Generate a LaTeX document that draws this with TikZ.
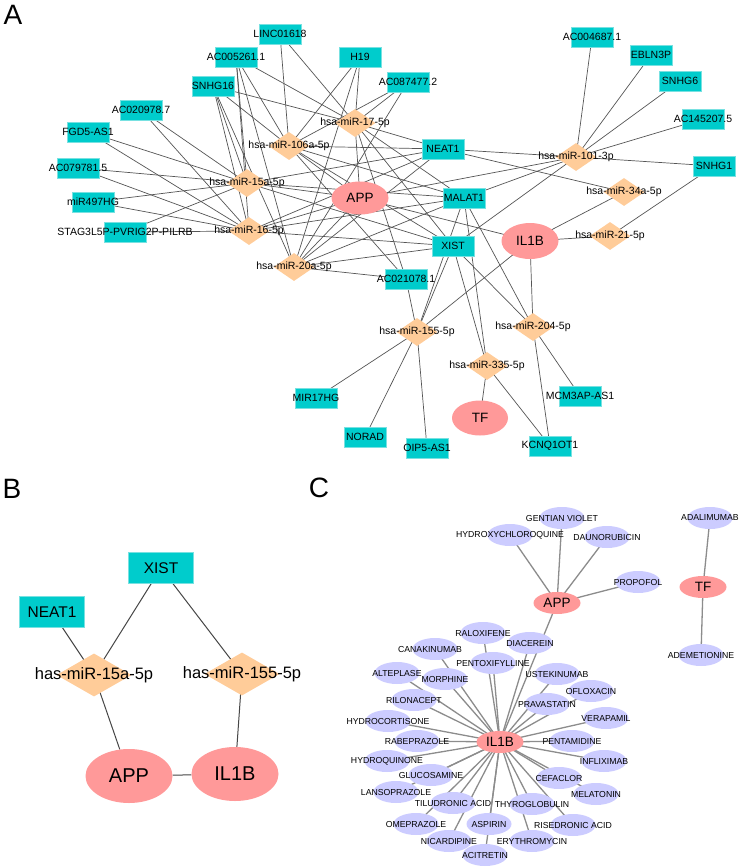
\documentclass[tikz,border=0pt]{standalone}
\usepackage{fontspec}
\setmainfont{Liberation Sans}
\usetikzlibrary{shapes.geometric}
\pgfdeclarelayer{back}
\pgfdeclarelayer{bg}
\pgfsetlayers{back,bg,main}
\definecolor{lnccol}{RGB}{0,204,204}
\definecolor{lncedge}{RGB}{120,225,225}
\definecolor{mircol}{RGB}{255,204,153}
\definecolor{genecol}{RGB}{255,153,153}
\definecolor{drugcol}{RGB}{204,204,255}
\definecolor{edgeAcol}{RGB}{85,85,85}
\definecolor{edgeBcol}{RGB}{70,70,70}
\definecolor{edgeCcol}{RGB}{140,140,140}
\tikzset{
  lncA/.style={rectangle, fill=lnccol, draw=lncedge, line width=0.4pt, minimum width=42pt, minimum height=20pt, inner sep=0pt},
  mirA/.style={diamond, fill=mircol, minimum width=41pt, minimum height=28pt, inner sep=0pt},
  geneA/.style={ellipse, fill=genecol, inner sep=0pt, font=\fontsize{13.5}{15}\selectfont},
  txtA/.style={inner sep=0pt, font=\fontsize{10.5}{12}\selectfont},
  lncB/.style={rectangle, fill=lnccol, draw=lncedge, line width=0.4pt, minimum width=65pt, minimum height=31pt, inner sep=0pt, font=\fontsize{15.5}{17}\selectfont},
  mirB/.style={diamond, fill=mircol, minimum width=75pt, minimum height=43pt, inner sep=0pt},
  txtB/.style={inner sep=0pt, font=\fontsize{16.5}{18}\selectfont},
  geneB/.style={ellipse, fill=genecol, minimum width=87pt, minimum height=54pt, inner sep=0pt, font=\fontsize{20}{22}\selectfont},
  geneC/.style={ellipse, fill=genecol, minimum width=47pt, minimum height=22pt, inner sep=0pt, font=\fontsize{13.5}{15}\selectfont},
  drugC/.style={ellipse, fill=drugcol, minimum width=45pt, minimum height=22pt, inner sep=0pt},
  txtC/.style={inner sep=0pt, font=\fontsize{8.7}{10}\selectfont},
  edgeA/.style={draw=edgeAcol, line width=0.7pt},
  edgeB/.style={draw=edgeBcol, line width=1pt},
  edgeC/.style={draw=edgeCcol, line width=1.3pt},
  panel/.style={inner sep=0pt, font=\fontsize{28}{30}\selectfont}
}
\begin{document}
\begin{tikzpicture}[x=1pt,y=-1pt]
\begin{pgfonlayer}{back}
\fill[white] (0,0) rectangle (740,868);
\end{pgfonlayer}
\useasboundingbox (0,0) rectangle (740,868);
% ---------------- panel labels
\node[panel] (labA) at (13,15) {A};
\node[panel] (labB) at (12,489) {B};
\node[panel] (labC) at (319,488) {C};
% ================= PANEL A shapes
\node[lncA] (linc) at (280,34) {};
\node[lncA] (ac005) at (236,57) {};
\node[lncA] (h19) at (360,57) {};
\node[lncA] (snhg16) at (213,86) {};
\node[lncA] (ac020) at (141,110) {};
\node[lncA] (fgd5) at (88,132) {};
\node[lncA] (ac079) at (78,168) {};
\node[lncA] (mir497) at (93,202) {};
\node[lncA] (stag) at (125,232) {};
\node[lncA] (ac087) at (408,82) {};
\node[lncA] (neat1) at (443,149) {};
\node[lncA] (malat1) at (464,198) {};
\node[lncA] (xist) at (453,246) {};
\node[lncA] (ac021) at (406,279) {};
\node[lncA] (ac004) at (592,37) {};
\node[lncA] (ebln) at (651,55) {};
\node[lncA] (snhg6) at (680,81) {};
\node[lncA] (ac145) at (703,119) {};
\node[lncA] (snhg1) at (714,166) {};
\node[lncA] (mir17hg) at (316,398) {};
\node[lncA] (norad) at (365,437) {};
\node[lncA] (oip5) at (427,448) {};
\node[lncA] (mcm3) at (580,396) {};
\node[lncA] (kcnq) at (550,446) {};
\node[mirA] (m106) at (289,146) {};
\node[mirA] (m17) at (355,123) {};
\node[mirA] (m15) at (247,183) {};
\node[mirA] (m16) at (249,231) {};
\node[mirA] (m20) at (294,267) {};
\node[mirA] (m101) at (576,157) {};
\node[mirA] (m34) at (624,192) {};
\node[mirA] (m21) at (610,236) {};
\node[mirA] (m155) at (417,332) {};
\node[mirA] (m204) at (533,327) {};
\node[mirA] (m335) at (487,366) {};
\node[geneA, minimum width=57pt, minimum height=33pt] (appA) at (360,198) {APP};
\node[geneA, minimum width=57pt, minimum height=36pt] (il1bA) at (530,241) {IL1B};
\node[geneA, minimum width=56pt, minimum height=35pt] (tfA) at (480,418) {TF};
% panel A texts
\node[txtA] (t-linc) at (linc) {LINC01618};
\node[txtA] (t-ac005) at (ac005) {AC005261.1};
\node[txtA] (t-h19) at (h19) {H19};
\node[txtA] (t-snhg16) at (snhg16) {SNHG16};
\node[txtA] (t-ac020) at (ac020) {AC020978.7};
\node[txtA] (t-fgd5) at (fgd5) {FGD5-AS1};
\node[txtA] (t-ac079) at (ac079) {AC079781.5};
\node[txtA] (t-mir497) at (mir497) {miR497HG};
\node[txtA] (t-stag) at (stag) {STAG3L5P-PVRIG2P-PILRB};
\node[txtA] (t-ac087) at (ac087) {AC087477.2};
\node[txtA] (t-neat1) at (neat1) {NEAT1};
\node[txtA] (t-malat1) at (malat1) {MALAT1};
\node[txtA] (t-xist) at (xist) {XIST};
\node[txtA] (t-ac021) at (ac021) {AC021078.1};
\node[txtA] (t-ac004) at (ac004) {AC004687.1};
\node[txtA] (t-ebln) at (ebln) {EBLN3P};
\node[txtA] (t-snhg6) at (snhg6) {SNHG6};
\node[txtA] (t-ac145) at (ac145) {AC145207.5};
\node[txtA] (t-snhg1) at (snhg1) {SNHG1};
\node[txtA] (t-mir17hg) at (mir17hg) {MIR17HG};
\node[txtA] (t-norad) at (norad) {NORAD};
\node[txtA] (t-oip5) at (oip5) {OIP5-AS1};
\node[txtA] (t-mcm3) at (mcm3) {MCM3AP-AS1};
\node[txtA] (t-kcnq) at (kcnq) {KCNQ1OT1};
\node[txtA] (t-m106) at (m106) {hsa-miR-106a-5p};
\node[txtA] (t-m17) at (m17) {hsa-miR-17-5p};
\node[txtA] (t-m15) at (m15) {hsa-miR-15a-5p};
\node[txtA] (t-m16) at (m16) {hsa-miR-16-5p};
\node[txtA] (t-m20) at (m20) {hsa-miR-20a-5p};
\node[txtA] (t-m101) at (m101) {hsa-miR-101-3p};
\node[txtA] (t-m34) at (m34) {hsa-miR-34a-5p};
\node[txtA] (t-m21) at (m21) {hsa-miR-21-5p};
\node[txtA] (t-m155) at (m155) {hsa-miR-155-5p};
\node[txtA] (t-m204) at (m204) {hsa-miR-204-5p};
\node[txtA] (t-m335) at (m335) {hsa-miR-335-5p};
% panel A edges
\begin{pgfonlayer}{bg}
\foreach \l in {linc,ac005,h19,snhg16,ac087,neat1,malat1,xist,appA,ac021}
  {\draw[edgeA] (m106.center) -- (\l.center);}
\foreach \l in {linc,ac005,h19,snhg16,ac087,neat1,malat1,xist,appA,ac021}
  {\draw[edgeA] (m17.center) -- (\l.center);}
\foreach \l in {ac005,snhg16,ac020,fgd5,ac079,mir497,stag,neat1,malat1,xist,appA}
  {\draw[edgeA] (m15.center) -- (\l.center);}
\foreach \l in {ac005,snhg16,ac020,fgd5,ac079,mir497,stag,neat1,malat1,xist,appA}
  {\draw[edgeA] (m16.center) -- (\l.center);}
\foreach \l in {ac005,snhg16,h19,ac087,neat1,malat1,xist,appA,ac021}
  {\draw[edgeA] (m20.center) -- (\l.center);}
\foreach \l in {neat1,malat1,xist,appA,ac004,ebln,snhg6,ac145,snhg1}
  {\draw[edgeA] (m101.center) -- (\l.center);}
\foreach \l in {neat1,il1bA}
  {\draw[edgeA] (m34.center) -- (\l.center);}
\foreach \l in {il1bA,snhg1}
  {\draw[edgeA] (m21.center) -- (\l.center);}
\foreach \l in {xist,malat1,ac021,il1bA,mir17hg,norad,oip5}
  {\draw[edgeA] (m155.center) -- (\l.center);}
\foreach \l in {xist,malat1,il1bA,mcm3,kcnq}
  {\draw[edgeA] (m204.center) -- (\l.center);}
\foreach \l in {xist,malat1,tfA,kcnq}
  {\draw[edgeA] (m335.center) -- (\l.center);}
\draw[edgeA] (appA.center) -- (il1bA.center);
\end{pgfonlayer}
% ================= PANEL B
\node[lncB] (xistB) at (161,568) {XIST};
\node[lncB] (neatB) at (52,612) {NEAT1};
\node[mirB] (m15B) at (94,675) {};
\node[mirB] (m155B) at (242,674) {};
\node[geneB] (appB) at (129,776) {APP};
\node[geneB] (il1bB) at (235,774) {IL1B};
\node[txtB] (t-m15B) at (m15B) {has-miR-15a-5p};
\node[txtB] (t-m155B) at (m155B) {has-miR-155-5p};
\begin{pgfonlayer}{bg}
\draw[edgeB] (neatB) -- (m15B.center);
\draw[edgeB] (xistB) -- (m15B.center);
\draw[edgeB] (xistB) -- (m155B.center);
\draw[edgeB] (m15B.center) -- (appB);
\draw[edgeB] (m155B.center) -- (il1bB);
\draw[edgeB] (appB) -- (il1bB);
\end{pgfonlayer}
% ================= PANEL C shapes
\node[geneC] (appC) at (557,603) {};
\node[geneC] (il1bC) at (500,742) {};
\node[geneC] (tfC) at (703,587) {};
\node[drugC] (gentian) at (562,518) {};
\node[drugC] (hcq) at (510,535) {};
\node[drugC] (dauno) at (607,537) {};
\node[drugC] (propofol) at (638,582) {};
\node[drugC] (adalim) at (710,518) {};
\node[drugC] (ademet) at (701,655) {};
\node[drugC] (ralox) at (483,633) {};
\node[drugC] (canak) at (435,649) {};
\node[drugC] (diacer) at (530,643) {};
\node[drugC] (altep) at (397,673) {};
\node[drugC] (morph) at (445,679) {};
\node[drugC] (pentox) at (493,663) {};
\node[drugC] (ustek) at (557,674) {};
\node[drugC] (oflox) at (591,691) {};
\node[drugC] (prava) at (547,704) {};
\node[drugC] (rilon) at (414,700) {};
\node[drugC] (verap) at (606,718) {};
\node[drugC] (hydroc) at (388,721) {};
\node[drugC] (rabep) at (417,741) {};
\node[drugC] (pentam) at (572,741) {};
\node[drugC] (inflix) at (604,761) {};
\node[drugC] (hydroq) at (387,761) {};
\node[drugC] (glucos) at (431,775) {};
\node[drugC] (cefac) at (559,778) {};
\node[drugC] (melat) at (596,794) {};
\node[drugC] (lanso) at (396,792) {};
\node[drugC] (tilud) at (453,803) {};
\node[drugC] (thyro) at (532,804) {};
\node[drugC] (omep) at (416,824) {};
\node[drugC] (aspir) at (489,824) {};
\node[drugC] (rised) at (573,825) {};
\node[drugC] (nicard) at (449,841) {};
\node[drugC] (eryth) at (532,841) {};
\node[drugC] (acitr) at (485,855) {};
% panel C texts
\node[inner sep=0pt, font=\fontsize{13.5}{15}\selectfont] (t-appC) at (appC) {APP};
\node[inner sep=0pt, font=\fontsize{13.5}{15}\selectfont] (t-il1bC) at (il1bC) {IL1B};
\node[inner sep=0pt, font=\fontsize{13.5}{15}\selectfont] (t-tfC) at (tfC) {TF};
\node[txtC] (t-gentian) at (gentian) {GENTIAN VIOLET};
\node[txtC] (t-hcq) at (hcq) {HYDROXYCHLOROQUINE};
\node[txtC] (t-dauno) at (dauno) {DAUNORUBICIN};
\node[txtC] (t-propofol) at (propofol) {PROPOFOL};
\node[txtC] (t-adalim) at (adalim) {ADALIMUMAB};
\node[txtC] (t-ademet) at (ademet) {ADEMETIONINE};
\node[txtC] (t-ralox) at (ralox) {RALOXIFENE};
\node[txtC] (t-canak) at (430,649) {CANAKINUMAB};
\node[txtC] (t-diacer) at (diacer) {DIACEREIN};
\node[txtC] (t-altep) at (altep) {ALTEPLASE};
\node[txtC] (t-morph) at (morph) {MORPHINE};
\node[txtC] (t-pentox) at (pentox) {PENTOXIFYLLINE};
\node[txtC] (t-ustek) at (ustek) {USTEKINUMAB};
\node[txtC] (t-oflox) at (oflox) {OFLOXACIN};
\node[txtC] (t-prava) at (prava) {PRAVASTATIN};
\node[txtC] (t-rilon) at (rilon) {RILONACEPT};
\node[txtC] (t-verap) at (verap) {VERAPAMIL};
\node[txtC] (t-hydroc) at (hydroc) {HYDROCORTISONE};
\node[txtC] (t-rabep) at (rabep) {RABEPRAZOLE};
\node[txtC] (t-pentam) at (pentam) {PENTAMIDINE};
\node[txtC] (t-inflix) at (inflix) {INFLIXIMAB};
\node[txtC] (t-hydroq) at (hydroq) {HYDROQUINONE};
\node[txtC] (t-glucos) at (glucos) {GLUCOSAMINE};
\node[txtC] (t-cefac) at (cefac) {CEFACLOR};
\node[txtC] (t-melat) at (melat) {MELATONIN};
\node[txtC] (t-lanso) at (lanso) {LANSOPRAZOLE};
\node[txtC] (t-tilud) at (tilud) {TILUDRONIC ACID};
\node[txtC] (t-thyro) at (thyro) {THYROGLOBULIN};
\node[txtC] (t-omep) at (omep) {OMEPRAZOLE};
\node[txtC] (t-aspir) at (aspir) {ASPIRIN};
\node[txtC] (t-rised) at (rised) {RISEDRONIC ACID};
\node[txtC] (t-nicard) at (nicard) {NICARDIPINE};
\node[txtC] (t-eryth) at (eryth) {ERYTHROMYCIN};
\node[txtC] (t-acitr) at (acitr) {ACITRETIN};
% panel C edges
\begin{pgfonlayer}{bg}
\foreach \d in {gentian,hcq,dauno,propofol,il1bC}
  {\draw[edgeC] (appC.center) -- (\d.center);}
\draw[edgeC] (tfC.center) -- (adalim.center);
\draw[edgeC] (tfC.center) -- (ademet.center);
\foreach \d in {ralox,canak,diacer,altep,morph,pentox,ustek,oflox,prava,rilon,verap,hydroc,rabep,pentam,inflix,hydroq,glucos,cefac,melat,lanso,tilud,thyro,omep,aspir,rised,nicard,eryth,acitr}
  {\draw[edgeC] (il1bC.center) -- (\d.center);}
\end{pgfonlayer}
\end{tikzpicture}
\end{document}
